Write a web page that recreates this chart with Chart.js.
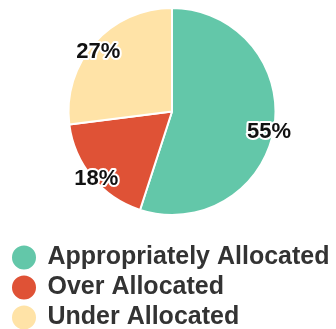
<!DOCTYPE html>
<html>
<head>
<meta charset="utf-8">
<script src="https://cdn.jsdelivr.net/npm/chart.js@4/dist/chart.umd.min.js"></script>
<style>
  html, body { margin: 0; padding: 0; background: #fff; }
  #wrap { width: 336px; height: 329px; }
</style>
</head>
<body>
<div id="wrap"><canvas id="chart"></canvas></div>
<script>
let categories = ["Appropriately Allocated", "Over Allocated", "Under Allocated"];
let shares = [55, 18, 27];
let colors = ["#63c7a9", "#df5236", "#ffe3a7"];

// percentage labels sitting near the outer rim of each slice
let rimLabels = {
    id: "rimLabels",
    afterDatasetsDraw(chart) {
        let ctx = chart.ctx;
        let arcs = chart.getDatasetMeta(0).data;
        ctx.save();
        ctx.font = "bold 22px 'Liberation Sans', Arial, sans-serif";
        ctx.textAlign = "center";
        ctx.textBaseline = "middle";
        ctx.lineJoin = "round";
        for (let i = 0; i < arcs.length; i++) {
            let a = arcs[i];
            let mid = (a.startAngle + a.endAngle) / 2;
            let r = a.outerRadius * 0.95;
            let x = a.x + Math.cos(mid) * r;
            let y = a.y + Math.sin(mid) * r + 5;
            let text = shares[i] + "%";
            ctx.strokeStyle = "#ffffff";
            ctx.lineWidth = 4;
            ctx.strokeText(text, x, y);
            ctx.fillStyle = "#111111";
            ctx.fillText(text, x, y);
        }
        ctx.restore();
    }
};

// nudge the legend block a little lower, into the bottom margin
let legendNudge = {
    id: "legendNudge",
    afterLayout(chart) {
        chart.legend.top += 11;
        chart.legend.bottom += 11;
    }
};

new Chart(document.getElementById("chart"), {
    type: "pie",
    data: {
        labels: categories,
        datasets: [{
            data: shares,
            backgroundColor: colors,
            borderColor: "#ffffff",
            borderWidth: 2
        }]
    },
    options: {
        responsive: true,
        maintainAspectRatio: false,
        animation: false,
        layout: { padding: { top: 7, left: 8, right: 0, bottom: 0 } },
        plugins: {
            tooltip: { enabled: false },
            legend: {
                position: "bottom",
                align: "start",
                // empty title only used as a spacer between pie and legend
                title: {
                    display: true,
                    text: " ",
                    font: { size: 10, lineHeight: 1.0 },
                    padding: { top: 1, bottom: 2 }
                },
                labels: {
                    usePointStyle: true,
                    pointStyle: "circle",
                    boxWidth: 22,
                    boxHeight: 18.4,
                    color: "#333333",
                    padding: 5,
                    font: { family: "'Liberation Sans', Arial, sans-serif", size: 25, weight: "bold" }
                }
            }
        }
    },
    plugins: [rimLabels, legendNudge]
});
</script>
</body>
</html>
